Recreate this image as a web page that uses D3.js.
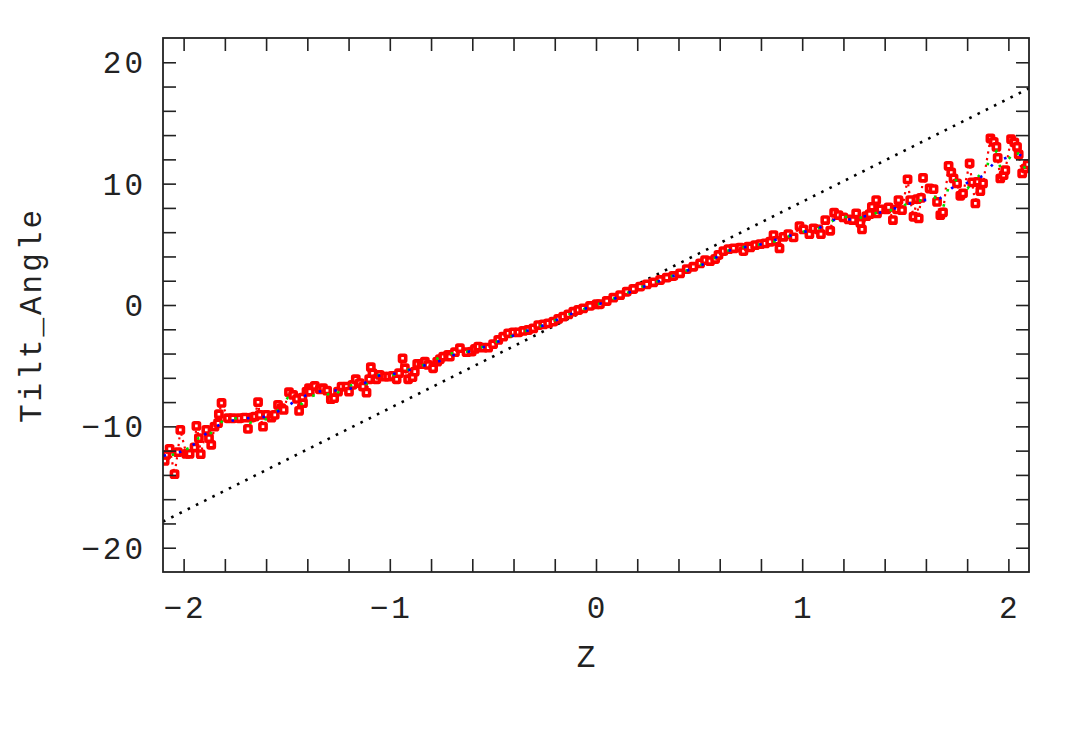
<!DOCTYPE html>
<html>
<head>
<meta charset="utf-8">
<script src="https://cdn.jsdelivr.net/npm/d3@7"></script>
<style>
  html, body { margin: 0; padding: 0; background: #fff; }
  svg { display: block; }
  text { font-family: "Liberation Mono", "DejaVu Sans Mono", monospace; fill: #222; }
</style>
</head>
<body>
<div id="chart"></div>
<script>
// ---------------- data ----------------
const xDomain = [-2.1, 2.1];
const yDomain = [-22, 22];
const xTickLabels = [-2, -1, 0, 1, 2];
const yTickLabels = [-20, -10, 0, 10, 20];
const xLabel = "Z";
const yLabel = "Tilt_Angle";

// reference (dotted black) line
const refZ = [-2.1, 2.1];
const refAngle = [-17.85, 17.85];

// red squares (data)
const redZ = [
 -2.092,-2.084,-2.068,-2.044,-2.028,-2.016,-1.987,-1.971,-1.947,-1.938,-1.926,-1.917,-1.890,-1.877,-1.866,-1.850,-1.833,-1.829,-1.816,-1.785,
 -1.761,-1.728,-1.704,-1.688,-1.671,-1.655,-1.639,-1.631,-1.615,-1.599,-1.574,-1.558,-1.542,-1.526,-1.515,-1.489,-1.469,-1.450,-1.440,-1.424,
 -1.421,-1.404,-1.392,-1.388,-1.364,-1.340,-1.324,-1.304,-1.286,-1.270,-1.251,-1.234,-1.210,-1.198,-1.181,-1.165,-1.146,-1.130,-1.113,-1.100,
 -1.092,-1.084,-1.065,-1.049,-1.024,-1.008,-0.987,-0.967,-0.955,-0.938,-0.927,-0.911,-0.890,-0.879,-0.867,-0.846,-0.830,-0.814,-0.790,-0.770,
 -0.757,-0.741,-0.717,-0.709,-0.684,-0.660,-0.628,-0.603,-0.587,-0.571,-0.547,-0.523,-0.499,-0.474,-0.450,-0.426,-0.401,-0.377,-0.353,-0.329,
 -0.304,-0.280,-0.256,-0.232,-0.207,-0.183,-0.159,-0.134,-0.110,-0.086,-0.062,-0.029,0.003,0.019,0.052,0.084,0.117,0.149,0.181,0.214,
 0.246,0.278,0.311,0.343,0.375,0.408,0.440,0.472,0.505,0.529,0.553,0.578,0.594,0.618,0.642,0.667,0.699,0.715,0.739,0.748,
 0.772,0.796,0.820,0.845,0.861,0.874,0.890,0.909,0.933,0.958,0.987,1.006,1.035,1.055,1.079,1.091,1.112,1.136,1.155,1.176,
 1.200,1.225,1.246,1.262,1.282,1.290,1.311,1.327,1.338,1.359,1.363,1.379,1.408,1.419,1.440,1.460,1.467,1.484,1.511,1.524,
 1.540,1.557,1.565,1.576,1.586,1.618,1.637,1.654,1.670,1.683,1.710,1.723,1.734,1.751,1.767,1.780,1.812,1.824,1.840,1.851,
 1.864,1.877,1.913,1.929,1.942,1.948,1.961,1.977,1.985,2.013,2.029,2.042,2.050,2.067,2.083,2.094
];
const redAngle = [
 -12.84,-12.35,-11.85,-13.93,-12.12,-10.29,-12.26,-12.26,-11.74,-9.96,-10.97,-12.29,-10.29,-10.97,-11.52,-10.02,-9.74,-9.00,-8.07,-9.33,
 -9.33,-9.33,-9.28,-10.21,-9.28,-9.19,-8.01,-9.05,-10.02,-9.05,-9.28,-9.05,-8.23,-8.50,-8.64,-7.19,-7.41,-7.74,-8.72,-7.63,
 -8.09,-7.14,-6.86,-7.14,-6.67,-6.94,-6.86,-7.05,-7.76,-7.68,-7.14,-6.72,-6.72,-7.14,-6.58,-6.12,-6.44,-6.72,-7.22,-6.12,
 -5.13,-5.62,-6.12,-5.76,-5.90,-5.90,-5.84,-6.12,-5.62,-4.39,-5.21,-6.12,-5.95,-5.49,-4.86,-4.86,-4.67,-4.94,-5.21,-4.67,
 -4.47,-4.26,-4.12,-4.26,-3.89,-3.56,-3.89,-3.84,-3.62,-3.43,-3.51,-3.51,-3.23,-2.88,-2.61,-2.33,-2.25,-2.25,-2.14,-2.06,
 -1.92,-1.65,-1.59,-1.51,-1.37,-1.15,-0.96,-0.77,-0.55,-0.41,-0.27,-0.08,0.06,0.06,0.33,0.60,0.82,1.09,1.32,1.51,
 1.70,1.87,2.06,2.25,2.39,2.61,2.96,3.15,3.43,3.70,3.62,3.79,4.12,4.44,4.61,4.67,4.72,4.44,4.80,4.75,
 4.94,5.02,5.08,5.21,5.76,5.29,4.67,5.62,5.84,5.57,6.50,6.23,5.84,6.31,6.23,5.84,7.00,6.12,7.60,7.41,
 7.22,7.05,7.00,7.55,6.77,6.23,7.33,7.49,8.09,8.64,7.55,7.88,7.88,8.04,7.00,7.88,8.64,7.82,10.35,8.64,
 7.27,8.72,7.14,8.83,10.48,9.60,9.55,8.50,7.41,7.63,11.47,10.92,10.43,10.02,9.00,9.19,11.66,10.10,8.37,10.15,
 9.38,10.02,13.72,13.44,13.03,12.12,10.43,10.70,11.11,13.66,13.39,13.03,12.40,10.84,11.25,11.58
];

// blue dotted line
const blueZ = [
 -2.097,-2.015,-1.937,-1.883,-1.811,-1.728,-1.607,-1.524,-1.451,-1.380,-1.306,-1.223,-1.186,-1.105,-1.073,-1.033,-0.987,-0.951,-0.906,-0.825,
 -0.741,-0.709,-0.628,-0.583,-0.506,-0.426,-0.350,-0.272,-0.191,-0.113,-0.074,0.003,0.084,0.200,0.278,0.400,0.476,0.553,0.621,0.704,
 0.788,0.906,0.987,1.071,1.149,1.228,1.311,1.392,1.427,1.508,1.589,1.667,1.699,1.727,1.807,1.877,1.904,1.932,2.001,2.050,2.102
];
const blueAngle = [
 -12.43,-12.10,-11.36,-10.45,-9.71,-9.38,-9.22,-8.64,-7.82,-7.22,-7.05,-7.05,-6.86,-6.31,-5.95,-5.70,-5.70,-5.57,-5.35,-4.94,
 -4.53,-4.20,-3.89,-3.70,-3.23,-2.69,-2.20,-1.79,-1.23,-0.68,-0.41,0.00,0.49,1.32,1.79,2.55,3.07,3.56,4.39,4.72,
 4.94,5.54,5.95,6.23,7.00,7.05,7.33,7.68,7.82,8.31,8.64,8.78,9.19,9.65,10.10,10.64,11.19,11.74,12.21,12.40,12.02
];

// green dotted line
const greenZ = [
 -2.092,-2.019,-1.956,-1.927,-1.883,-1.864,-1.796,-1.757,-1.680,-1.573,-1.495,-1.427,-1.404,-1.307,-1.278,-1.227,-1.178,-1.113,-1.089,-1.052,
 -1.008,-0.955,-0.906,-0.825,-0.725,-0.628,-0.583,-0.506,-0.426,-0.350,-0.272,-0.191,-0.113,0.003,0.084,0.200,0.278,0.400,0.476,0.553,
 0.621,0.704,0.788,0.874,0.987,1.071,1.149,1.176,1.209,1.252,1.327,1.403,1.451,1.505,1.641,1.683,1.694,1.715,1.738,1.802,
 1.824,1.897,1.904,1.942,1.961,2.001,2.039,2.067,2.091
];
const greenAngle = [
 -12.60,-12.10,-11.67,-10.95,-10.95,-10.45,-9.30,-9.30,-9.71,-9.30,-7.65,-8.15,-7.60,-7.22,-7.76,-6.72,-6.58,-6.50,-5.95,-5.76,
 -5.90,-5.62,-5.30,-4.90,-4.03,-3.85,-3.66,-3.20,-2.66,-2.18,-1.76,-1.20,-0.65,0.02,0.52,1.35,1.82,2.58,3.10,3.60,
 4.40,4.75,4.96,5.27,5.98,6.25,6.95,7.41,7.27,7.05,7.41,7.82,7.82,8.31,8.91,8.01,8.64,10.10,10.37,9.60,
 10.10,11.30,12.02,12.67,11.30,12.02,12.84,11.52,11.11
];

// ---------------- layout ----------------
const W = 1086, H = 753;
const plot = { left: 163, right: 1029, top: 38, bottom: 572 };

const x = d3.scaleLinear().domain(xDomain).range([plot.left, plot.right]);
const y = d3.scaleLinear().domain(yDomain).range([plot.bottom, plot.top]);

const svg = d3.select("#chart").append("svg").attr("width", W).attr("height", H);

svg.append("defs").append("clipPath").attr("id", "clip")
  .append("rect").attr("x", plot.left).attr("y", plot.top)
  .attr("width", plot.right - plot.left).attr("height", plot.bottom - plot.top);

const zip = (a, b) => a.map((v, i) => [v, b[i]]);
const line = d3.line().x(d => x(d[0])).y(d => y(d[1]));

const g = svg.append("g").attr("clip-path", "url(#clip)");

// reference dotted line
g.append("path").datum(zip(refZ, refAngle)).attr("d", line)
  .attr("fill", "none").attr("stroke", "#000").attr("stroke-width", 2.6)
  .attr("stroke-dasharray", "2.6,6.6");

// red dotted connecting line
const red = zip(redZ, redAngle);
g.append("path").datum(red).attr("d", line)
  .attr("fill", "none").attr("stroke", "#ff0000").attr("stroke-width", 2.2)
  .attr("stroke-dasharray", "2.2,4.5");

// red square markers
const ms = 6.2;
g.selectAll("rect.pt").data(red).enter().append("rect")
  .attr("class", "pt")
  .attr("x", d => x(d[0]) - ms / 2).attr("y", d => y(d[1]) - ms / 2)
  .attr("width", ms).attr("height", ms).attr("rx", 1)
  .attr("fill", "#fff").attr("stroke", "#ff0000").attr("stroke-width", 3.6);

// green dotted line
g.append("path").datum(zip(greenZ, greenAngle)).attr("d", line)
  .attr("fill", "none").attr("stroke", "#00dd00").attr("stroke-width", 2.6)
  .attr("stroke-dasharray", "2.6,13").attr("stroke-dashoffset", 8);

// blue dotted line
g.append("path").datum(zip(blueZ, blueAngle)).attr("d", line)
  .attr("fill", "none").attr("stroke", "#0000ff").attr("stroke-width", 2.6)
  .attr("stroke-dasharray", "2.6,13");

// ---------------- axes ----------------
const tickLen = 13;
const axisColor = "#222";
const frame = svg.append("g");
frame.append("rect").attr("x", plot.left).attr("y", plot.top)
  .attr("width", plot.right - plot.left).attr("height", plot.bottom - plot.top)
  .attr("fill", "none").attr("stroke", axisColor).attr("stroke-width", 1.8);

const xMinor = d3.range(-20, 21, 2).map(v => v / 10);
const yMinor = d3.range(-20, 21, 2);

const bottomAxis = d3.axisBottom(x).tickValues(xMinor).tickSize(-tickLen).tickFormat("");
const topAxis = d3.axisTop(x).tickValues(xMinor).tickSize(-tickLen).tickFormat("");
const leftAxis = d3.axisLeft(y).tickValues(yMinor).tickSize(-tickLen).tickFormat("");
const rightAxis = d3.axisRight(y).tickValues(yMinor).tickSize(-tickLen).tickFormat("");

function styleAxis(sel) {
  sel.select(".domain").remove();
  sel.selectAll(".tick line").attr("stroke", axisColor).attr("stroke-width", 1.6);
}
svg.append("g").attr("transform", `translate(0,${plot.bottom})`).call(bottomAxis).call(styleAxis);
svg.append("g").attr("transform", `translate(0,${plot.top})`).call(topAxis).call(styleAxis);
svg.append("g").attr("transform", `translate(${plot.left},0)`).call(leftAxis).call(styleAxis);
svg.append("g").attr("transform", `translate(${plot.right},0)`).call(rightAxis).call(styleAxis);

const fmt = v => (v < 0 ? "\u2212" + Math.abs(v) : String(v));
const ls = 3;
const fs = 31;

svg.append("g").selectAll("text").data(xTickLabels).enter().append("text")
  .attr("x", d => x(d) + ls / 2).attr("y", 618)
  .attr("text-anchor", "middle").attr("font-size", fs)
  .attr("letter-spacing", ls)
  .text(fmt);

svg.append("g").selectAll("text").data(yTickLabels).enter().append("text")
  .attr("x", 143 + ls).attr("y", d => y(d) + 11)
  .attr("text-anchor", "end").attr("font-size", fs)
  .attr("letter-spacing", ls)
  .text(fmt);

svg.append("text").attr("x", 586).attr("y", 667)
  .attr("text-anchor", "middle").attr("font-size", fs).text(xLabel);

svg.append("text")
  .attr("transform", `translate(41,${315}) rotate(-90)`)
  .attr("text-anchor", "middle").attr("font-size", fs)
  .attr("letter-spacing", ls)
  .text(yLabel);
</script>
</body>
</html>
